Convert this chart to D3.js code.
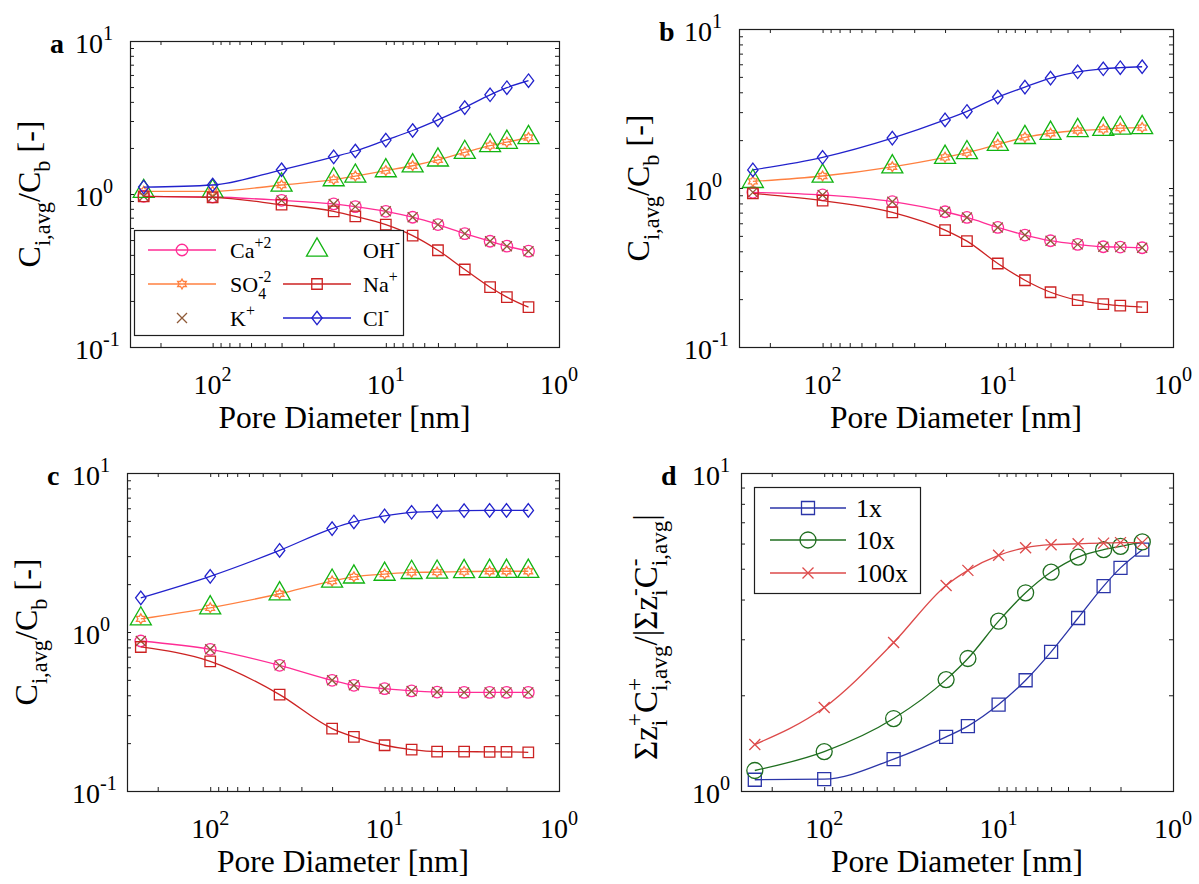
<!DOCTYPE html>
<html>
<head>
<meta charset="utf-8">
<script src="https://cdn.jsdelivr.net/npm/d3@7"></script>
<style>
  body { margin: 0; background: #fff; }
  svg { display: block; }
  text { font-family: "Liberation Serif", "Times New Roman", Times, serif; fill: #000; white-space: pre; }
</style>
</head>
<body>
<svg id="fig" width="1199" height="884"></svg>
<script>
// Pore diameters [nm] at which the averaged concentrations were computed
const diameters = [250, 100, 40, 20, 15, 10, 7, 5, 3.5, 2.5, 2, 1.5];

// Panel a: C_i,avg / C_b
const aCa  = [0.966, 0.956, 0.909, 0.861, 0.827, 0.771, 0.705, 0.631, 0.551, 0.491, 0.456, 0.423];
const aSO4 = [1.04, 1.04, 1.145, 1.24, 1.31, 1.42, 1.53, 1.67, 1.87, 2.07, 2.18, 2.34];
const aK   = [0.966, 0.956, 0.909, 0.861, 0.827, 0.771, 0.705, 0.631, 0.551, 0.491, 0.456, 0.423];
const aOH  = [1.04, 1.04, 1.145, 1.24, 1.31, 1.42, 1.53, 1.67, 1.87, 2.07, 2.18, 2.34];
const aNa  = [0.966, 0.951, 0.852, 0.771, 0.715, 0.631, 0.535, 0.429, 0.321, 0.246, 0.212, 0.182];
const aCl  = [1.11, 1.145, 1.44, 1.75, 1.91, 2.25, 2.60, 3.05, 3.67, 4.45, 4.95, 5.50];

// Panel b
const bCa  = [0.939, 0.904, 0.820, 0.709, 0.653, 0.565, 0.506, 0.466, 0.442, 0.427, 0.425, 0.421];
const bSO4 = [1.10, 1.19, 1.36, 1.56, 1.67, 1.88, 2.08, 2.21, 2.30, 2.34, 2.38, 2.40];
const bK   = [0.939, 0.904, 0.820, 0.709, 0.653, 0.565, 0.506, 0.466, 0.442, 0.427, 0.425, 0.421];
const bOH  = [1.10, 1.19, 1.36, 1.56, 1.67, 1.88, 2.08, 2.21, 2.30, 2.34, 2.38, 2.40];
const bNa  = [0.926, 0.832, 0.703, 0.544, 0.463, 0.335, 0.263, 0.221, 0.197, 0.186, 0.182, 0.178];
const bCl  = [1.30, 1.56, 2.06, 2.68, 3.03, 3.73, 4.31, 4.91, 5.38, 5.62, 5.71, 5.79];

// Panel c
const cCa  = [0.878, 0.778, 0.617, 0.497, 0.462, 0.440, 0.426, 0.419, 0.417, 0.417, 0.417, 0.417];
const cSO4 = [1.21, 1.42, 1.74, 2.09, 2.22, 2.31, 2.37, 2.38, 2.40, 2.41, 2.41, 2.41];
const cK   = [0.878, 0.778, 0.617, 0.497, 0.462, 0.440, 0.426, 0.419, 0.417, 0.417, 0.417, 0.417];
const cOH  = [1.21, 1.42, 1.74, 2.09, 2.22, 2.31, 2.37, 2.38, 2.40, 2.41, 2.41, 2.41];
const cNa  = [0.805, 0.654, 0.404, 0.247, 0.219, 0.194, 0.182, 0.177, 0.177, 0.176, 0.176, 0.175];
const cCl  = [1.64, 2.24, 3.26, 4.47, 4.92, 5.37, 5.66, 5.74, 5.80, 5.82, 5.82, 5.82];

// Panel d: charge ratio for the three bulk concentration levels
const d1x   = [1.085, 1.09, 1.26, 1.48, 1.60, 1.87, 2.23, 2.74, 3.50, 4.41, 5.03, 5.74];
const d10x  = [1.16, 1.33, 1.69, 2.24, 2.61, 3.42, 4.20, 4.88, 5.44, 5.74, 5.88, 6.07];
const d100x = [1.40, 1.83, 2.93, 4.43, 4.94, 5.51, 5.82, 5.95, 5.99, 6.02, 6.04, 6.04];

// Decade tick labels (10^n)
const xTickExps = [2, 1, 0];
const yTickExps = [-1, 0, 1];
const dTickExps = [0, 1];

const svg = d3.select("#fig");

// ---------- marker glyphs (size = overall extent in px) ----------
const glyph = {
  circle:   { draw(c, s) { const r = s / 2; c.moveTo(r, 0); c.arc(0, 0, r, 0, 2 * Math.PI); } },
  square:   { draw(c, s) { const r = s / 2; c.rect(-r, -r, s, s); } },
  diamond:  { draw(c, s) { const h = s / 2, w = s * 0.385; c.moveTo(0, -h); c.lineTo(w, 0); c.lineTo(0, h); c.lineTo(-w, 0); c.closePath(); } },
  triangle: { draw(c, s) { const h = s * Math.sqrt(3) / 2; c.moveTo(0, -2 * h / 3); c.lineTo(s / 2, h / 3); c.lineTo(-s / 2, h / 3); c.closePath(); } },
  cross:    { draw(c, s) { const r = s / 2; c.moveTo(-r, -r); c.lineTo(r, r); c.moveTo(-r, r); c.lineTo(r, -r); } },
  hexagram: { draw(c, s) {
    const R = s / 2, r = R / Math.sqrt(3);
    for (let k = 0; k < 12; k++) {
      const a = -Math.PI / 2 + k * Math.PI / 6, rr = k % 2 ? r : R;
      k ? c.lineTo(rr * Math.cos(a), rr * Math.sin(a)) : c.moveTo(rr * Math.cos(a), rr * Math.sin(a));
    }
    c.closePath();
  } }
};

// ---------- rich text with sub/superscripts ----------
function rich(text, parts, F, k = 0.7) {
  const sub = 0.3 * F, sup = -0.45 * F;
  let cur = 0;
  const spans = parts.map(p => {
    const target = p.s === "sub" ? sub : p.s === "sup" ? sup : 0;
    const ts = text.append("tspan").text(p.t).attr("dy", target - cur)
      .style("font-size", (p.s ? F * k : F) + "px");
    cur = target;
    return ts;
  });
  parts.forEach((p, i) => {
    if (!p.stack) return;
    const prev = spans[i - 1].node().getComputedTextLength();
    const me = spans[i].node().getComputedTextLength();
    spans[i].attr("dx", -prev);
    if (prev > me && spans[i + 1]) spans[i + 1].attr("dx", prev - me);
  });
  return text;
}

const ionStyles = [
  { key: "Ca",  color: "#ff2d95", marker: "circle",   size: 11.5, line: true,  label: [{ t: "Ca" }, { t: "+2", s: "sup" }] },
  { key: "SO4", color: "#ff8040", marker: "hexagram", size: 10,   line: true,  label: [{ t: "SO" }, { t: "4", s: "sub" }, { t: "-2", s: "sup", stack: true }] },
  { key: "K",   color: "#8f5a38", marker: "cross",    size: 10,   line: false, label: [{ t: "K" }, { t: "+", s: "sup" }] },
  { key: "OH",  color: "#12b412", marker: "triangle", size: 21,   line: false, label: [{ t: "OH" }, { t: "-", s: "sup" }] },
  { key: "Na",  color: "#cc2222", marker: "square",   size: 10.5, line: true,  label: [{ t: "Na" }, { t: "+", s: "sup" }] },
  { key: "Cl",  color: "#2222cc", marker: "diamond",  size: 13.5, line: true,  label: [{ t: "Cl" }, { t: "-", s: "sup" }] }
];

function ionSeries(vals) {
  return ionStyles.map((st, i) => Object.assign({}, st, { values: vals[i] }));
}

const concLabel = [{ t: "C" }, { t: "i,avg", s: "sub" }, { t: "/C" }, { t: "b", s: "sub" }, { t: " [-]" }];
const chargeLabel = [
  { t: "Σz" }, { t: "i", s: "sub" }, { t: "+", s: "sup", stack: true },
  { t: "C" }, { t: "+", s: "sup" }, { t: "i,avg", s: "sub", stack: true },
  { t: "/|Σz" }, { t: "i", s: "sub" }, { t: "-", s: "sup", stack: true },
  { t: "C" }, { t: "-", s: "sup" }, { t: "i,avg", s: "sub", stack: true }, { t: "|" }
];

const panels = [
  { letter: "a", x0: 130, x1: 559, y0: 41, y1: 347, yDomain: [0.1, 10], yExps: yTickExps,
    series: ionSeries([aCa, aSO4, aK, aOH, aNa, aCl]), yLabel: concLabel, yLabelDx: 90, ionLegend: true },
  { letter: "b", x0: 739, x1: 1173, y0: 29, y1: 347, yDomain: [0.1, 10], yExps: yTickExps,
    series: ionSeries([bCa, bSO4, bK, bOH, bNa, bCl]), yLabel: concLabel, yLabelDx: 90 },
  { letter: "c", x0: 127, x1: 559, y0: 473, y1: 791, yDomain: [0.1, 10], yExps: yTickExps,
    series: ionSeries([cCa, cSO4, cK, cOH, cNa, cCl]), yLabel: concLabel, yLabelDx: 90 },
  { letter: "d", x0: 741, x1: 1173, y0: 473, y1: 791, yDomain: [1, 10], yExps: dTickExps, yTickDx: 49,
    series: [
      { color: "#2b35a8", marker: "square", size: 13, line: true, values: d1x,   label: [{ t: "1x" }] },
      { color: "#1f6e1f", marker: "circle", size: 16, line: true, values: d10x,  label: [{ t: "10x" }] },
      { color: "#dd4a4a", marker: "cross",  size: 11, line: true, values: d100x, label: [{ t: "100x" }] }
    ],
    yLabel: chargeLabel, yLabelDx: 84, yLabelCy: 637, yLabelF: 33, chargeLegend: true }
];

const ink = "#1e1e1e";

function drawMarker(g, st, px, py) {
  g.append("path")
    .attr("transform", `translate(${px},${py})`)
    .attr("d", d3.symbol().type(glyph[st.marker]).size(st.size)())
    .attr("fill", "none")
    .attr("stroke", st.color)
    .attr("stroke-width", 1.3);
}

function drawPanel(p) {
  const g = svg.append("g");
  const x = d3.scaleLog().domain([300, 1]).range([p.x0, p.x1]);
  const y = d3.scaleLog().domain(p.yDomain).range([p.y1, p.y0]);

  // inward ticks on all four sides
  [[d3.axisBottom(x), `translate(0,${p.y1})`, x.ticks()],
   [d3.axisTop(x), `translate(0,${p.y0})`, x.ticks()],
   [d3.axisLeft(y), `translate(${p.x0},0)`, y.ticks()],
   [d3.axisRight(y), `translate(${p.x1},0)`, y.ticks()]].forEach(([axis, tr, tv]) => {
    const s = g.append("g").attr("transform", tr)
      .call(axis.tickValues(tv).tickSize(-4).tickSizeOuter(0).tickFormat(""));
    s.select(".domain").remove();
    s.selectAll("line").attr("stroke", ink);
  });

  g.append("rect")
    .attr("x", p.x0 + 0.5).attr("y", p.y0 + 0.5)
    .attr("width", p.x1 - p.x0).attr("height", p.y1 - p.y0)
    .attr("fill", "none").attr("stroke", ink).attr("stroke-width", 1.2);

  // tick labels
  xTickExps.forEach(e => {
    rich(g.append("text").attr("x", x(Math.pow(10, e))).attr("y", p.y1 + 47)
      .attr("text-anchor", "middle"), [{ t: "10" }, { t: String(e), s: "sup" }], 28, 0.72);
  });
  p.yExps.forEach(e => {
    rich(g.append("text").attr("x", p.x0 - (p.yTickDx || 55)).attr("y", y(Math.pow(10, e)) + 11.5),
      [{ t: "10" }, { t: String(e), s: "sup" }], 28, 0.72);
  });

  // panel letter
  g.append("text").attr("x", p.x0 - 80).attr("y", p.y0 + 11.5)
    .style("font-size", "28px").style("font-weight", "bold").text(p.letter);

  // axis titles
  g.append("text").attr("x", (p.x0 + p.x1) / 2).attr("y", p.y1 + 81)
    .attr("text-anchor", "middle").style("font-size", "31.5px").text("Pore Diameter [nm]");
  const cy = p.yLabelCy || (p.y0 + p.y1) / 2;
  rich(g.append("text").attr("transform", `translate(${p.x0 - p.yLabelDx},${cy}) rotate(-90)`)
    .attr("text-anchor", "middle"), p.yLabel, p.yLabelF || 32);

  // series
  const line = d3.line().x(d => x(d.d)).y(d => y(d.v)).curve(d3.curveMonotoneX);
  p.series.forEach(st => {
    const pts = diameters.map((d, i) => ({ d, v: st.values[i] }));
    if (st.line) {
      g.append("path").datum(pts).attr("d", line)
        .attr("fill", "none").attr("stroke", st.color).attr("stroke-width", 1.3);
    }
    pts.forEach(pt => drawMarker(g, st, x(pt.d), y(pt.v)));
  });

  // legends
  if (p.ionLegend) {
    const lg = g.append("g");
    lg.append("rect").attr("x", 134.5).attr("y", 230.5).attr("width", 269).attr("height", 105)
      .attr("fill", "#fff").attr("stroke", ink).attr("stroke-width", 1.2);
    const rows = [250, 284, 318];
    const cols = [{ l0: 148, l1: 216, m: 182, t: 230 }, { l0: 283, l1: 351, m: 317, t: 363 }];
    p.series.forEach((st, i) => {
      const c = cols[Math.floor(i / 3)], ry = rows[i % 3];
      if (st.line) lg.append("line").attr("x1", c.l0).attr("x2", c.l1).attr("y1", ry).attr("y2", ry)
        .attr("stroke", st.color).attr("stroke-width", 1.3);
      drawMarker(lg, st, c.m, ry);
      rich(lg.append("text").attr("x", c.t).attr("y", ry + 8), st.label, 22, 0.72);
    });
  }
  if (p.chargeLegend) {
    const lg = g.append("g");
    lg.append("rect").attr("x", 754.5).attr("y", 487.5).attr("width", 166).attr("height", 106)
      .attr("fill", "#fff").attr("stroke", ink).attr("stroke-width", 1.2);
    const rows = [508, 540, 573];
    p.series.forEach((st, i) => {
      const ry = rows[i];
      lg.append("line").attr("x1", 770).attr("x2", 846).attr("y1", ry).attr("y2", ry)
        .attr("stroke", st.color).attr("stroke-width", 1.3);
      drawMarker(lg, st, 808, ry);
      lg.append("text").attr("x", 856).attr("y", ry + 9).style("font-size", "26px").text(st.label[0].t);
    });
  }
}

panels.forEach(drawPanel);
</script>
</body>
</html>
